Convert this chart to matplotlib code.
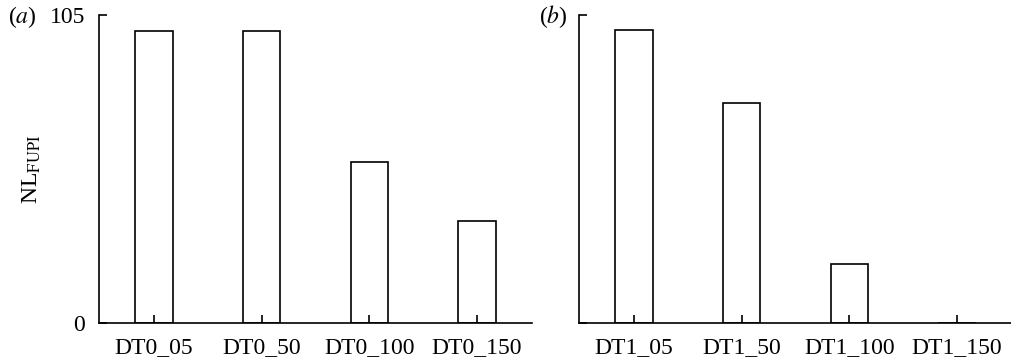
import matplotlib
matplotlib.use("Agg")
import matplotlib.pyplot as plt
from matplotlib import font_manager

names = {f.name for f in font_manager.fontManager.ttflist}
serif = 'STIXGeneral'
for cand in ['Liberation Serif', 'Times New Roman', 'Nimbus Roman', 'STIXGeneral']:
    if cand in names:
        serif = cand
        break

plt.rcParams['font.family'] = 'serif'
plt.rcParams['font.serif'] = [serif, 'STIXGeneral', 'DejaVu Serif']
plt.rcParams['mathtext.fontset'] = 'stix'

cats_a = ["DT0_05", "DT0_50", "DT0_100", "DT0_150"]
vals_a = [99.7, 99.7, 54.7, 34.7]
cats_b = ["DT1_05", "DT1_50", "DT1_100", "DT1_150"]
vals_b = [99.8, 74.9, 19.9, 0]
ytick_vals = [0, 105]
ytick_labels = ["0", "105"]

W, H = 1011, 361
fig = plt.figure(figsize=(W / 100, H / 100), dpi=100)

ax_a = fig.add_axes([99 / W, (H - 322.7) / H, 433 / W, 307.7 / H])
ax_b = fig.add_axes([579 / W, (H - 322.7) / H, 433 / W, 307.7 / H])

fs = 17
for ax, cats, vals in [(ax_a, cats_a, vals_a), (ax_b, cats_b, vals_b)]:
    x = list(range(len(cats)))
    ax.bar(x, vals, width=0.35, color='white', edgecolor='black', linewidth=1.2)
    ax.set_xlim(-0.51, 3.51)
    ax.set_ylim(0, 105)
    ax.set_xticks(x)
    ax.set_xticklabels(cats, fontsize=fs)
    ax.spines['top'].set_visible(False)
    ax.spines['right'].set_visible(False)
    for s in ['left', 'bottom']:
        ax.spines[s].set_linewidth(1.2)
    ax.tick_params(direction='in', length=6, width=1.2, pad=10)
    ax.set_yticks(ytick_vals)

ax_a.set_yticklabels(ytick_labels, fontsize=fs)
ax_b.set_yticklabels([])
ax_a.set_ylabel(r"NL$_{\mathrm{FUPI}}$", fontsize=fs, labelpad=5)

fig.text(8 / W, 1 - 17 / H, r"($\it{a}$)", fontsize=fs, va='center', ha='left')
fig.text(539 / W, 1 - 17 / H, r"($\it{b}$)", fontsize=fs, va='center', ha='left')

fig.savefig("out.png", dpi=100)
